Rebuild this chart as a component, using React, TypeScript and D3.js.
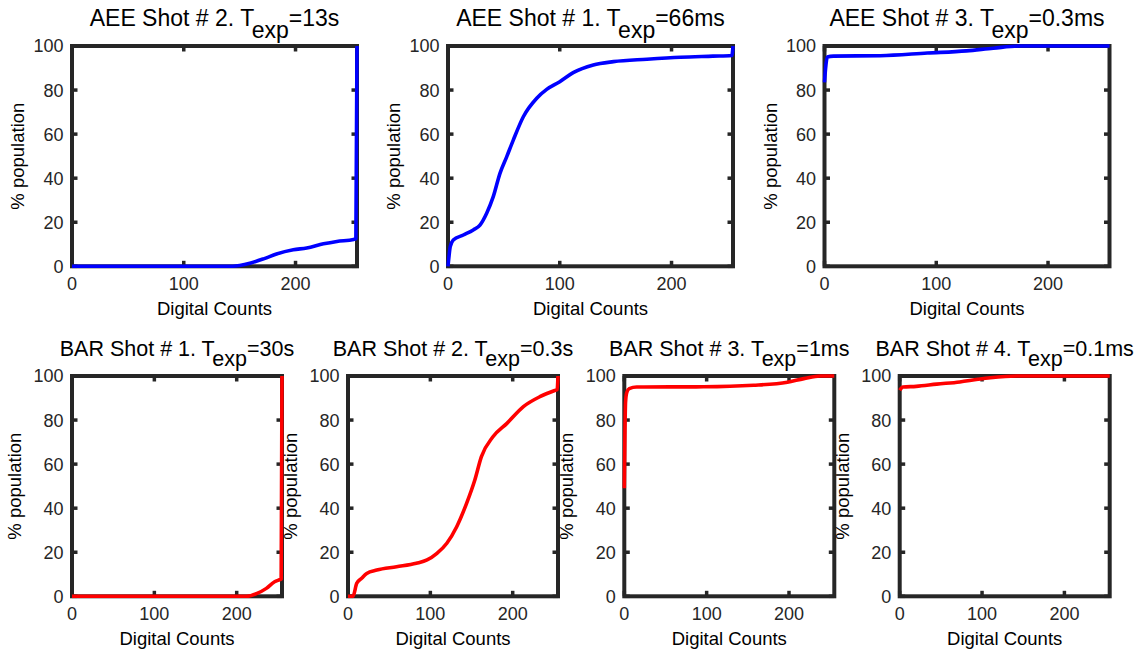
import React from "react";
import * as d3 from "d3";

// ---------- data ----------
const xTicks = [0, 100, 200];
const yTicks = [0, 20, 40, 60, 80, 100];
const xLabel = "Digital Counts";
const yLabel = "% population";

// AEE Shot # 2, Texp = 13s
const aee2Counts = [0, 138, 150, 160, 172, 183, 198, 210, 225, 237, 252, 254, 255];
const aee2Pct = [0, 0, 0.4, 1.5, 3.5, 5.6, 7.5, 8.3, 10.2, 11.3, 12.2, 12.5, 100];

// AEE Shot # 1, Texp = 66ms
const aee1Counts = [0, 1, 2, 4.7, 13.7, 22.6, 28.6, 34.6, 40.5, 46.5, 52.5, 58.4, 67.4, 79.4, 88.3, 100, 112, 130, 148, 178, 208, 237, 254, 255];
const aee1Pct = [0, 5, 8.9, 11.9, 14.2, 16.5, 18.7, 24.1, 31.6, 42.2, 49.7, 57.3, 67.9, 76.3, 80.3, 83.8, 87.9, 91.4, 92.9, 94.0, 94.9, 95.4, 95.7, 100];

// AEE Shot # 3, Texp = 0.3ms
const aee3Counts = [0, 1, 2.5, 8, 50, 92, 127, 151, 175, 255];
const aee3Pct = [83.5, 90, 95, 95.4, 95.6, 96.8, 97.8, 99, 100, 100];

// BAR Shot # 1, Texp = 30s
const bar1Counts = [0, 212, 224, 236, 246, 252, 254, 255];
const bar1Pct = [0, 0, 1.2, 3.6, 6.6, 7.5, 7.8, 100];

// BAR Shot # 2, Texp = 0.3s
const bar2Counts = [0, 6, 10.6, 16.6, 22.7, 35, 59, 83, 96, 108, 120, 132, 144, 154, 162, 176, 193, 213, 233, 251, 254, 255];
const bar2Pct = [0, 0, 5.9, 8.2, 10.4, 11.9, 13.4, 15, 16.5, 19.5, 24.1, 31.6, 42.2, 52.8, 63.4, 72.4, 78.5, 86.1, 90.6, 93.4, 93.8, 100];

// BAR Shot # 3, Texp = 1ms
const bar3Counts = [0, 0.8, 1.5, 3, 6, 15, 96, 157, 198, 218, 238, 255];
const bar3Pct = [49, 75, 88, 92.5, 94.3, 95, 95.1, 95.8, 97.2, 98.8, 100, 100];

// BAR Shot # 4, Texp = 0.1ms
const bar4Counts = [0, 4, 20, 45, 73, 95, 110, 142, 255];
const bar4Pct = [93.5, 95, 95.3, 96.3, 97.3, 98.5, 99.2, 100, 100];

const titlesMain = ["AEE Shot # 2. T", "AEE Shot # 1. T", "AEE Shot # 3. T", "BAR Shot # 1. T", "BAR Shot # 2. T", "BAR Shot # 3. T", "BAR Shot # 4. T"];
const titlesTail = ["=13s", "=66ms", "=0.3ms", "=30s", "=0.3s", "=1ms", "=0.1ms"];
const titleSub = "exp";

// ---------- layout ----------
const FONT = "'Liberation Sans', Arial, Helvetica, sans-serif";
const AX = "#262626";

type Panel = {
  xs: number[];
  ys: number[];
  color: string;
  left: number;
  top: number;
  w: number;
  h: number;
  titleSize: number;
  subShift: number;
  ylabOff: number;
};

const TOP_W = 285, TOP_H = 220.3, TOP_Y = 46;
const BOT_W = 210, BOT_H = 220.3, BOT_Y = 376;

const panels: Panel[] = [
  { xs: aee2Counts, ys: aee2Pct, color: "#0000ff", left: 72, top: TOP_Y, w: TOP_W, h: TOP_H, titleSize: 23, subShift: 12, ylabOff: 48 },
  { xs: aee1Counts, ys: aee1Pct, color: "#0000ff", left: 448, top: TOP_Y, w: TOP_W, h: TOP_H, titleSize: 23, subShift: 12, ylabOff: 48 },
  { xs: aee3Counts, ys: aee3Pct, color: "#0000ff", left: 824.5, top: TOP_Y, w: TOP_W, h: TOP_H, titleSize: 23, subShift: 12, ylabOff: 48 },
  { xs: bar1Counts, ys: bar1Pct, color: "#ff0000", left: 72, top: BOT_Y, w: BOT_W, h: BOT_H, titleSize: 21.5, subShift: 10, ylabOff: 51 },
  { xs: bar2Counts, ys: bar2Pct, color: "#ff0000", left: 348, top: BOT_Y, w: BOT_W, h: BOT_H, titleSize: 21.5, subShift: 10, ylabOff: 51 },
  { xs: bar3Counts, ys: bar3Pct, color: "#ff0000", left: 624.3, top: BOT_Y, w: BOT_W, h: BOT_H, titleSize: 21.5, subShift: 10, ylabOff: 51 },
  { xs: bar4Counts, ys: bar4Pct, color: "#ff0000", left: 899.7, top: BOT_Y, w: BOT_W, h: BOT_H, titleSize: 21.5, subShift: 10, ylabOff: 51 },
];

function PanelView({ p, idx }: { p: Panel; idx: number }) {
  const x = d3.scaleLinear().domain([0, 255]).range([p.left, p.left + p.w]);
  const y = d3.scaleLinear().domain([0, 100]).range([p.top + p.h, p.top]);
  const pts: [number, number][] = p.xs.map((v, i) => [v, p.ys[i]]);
  const line = d3
    .line<[number, number]>()
    .x((d) => x(d[0]))
    .y((d) => y(d[1]))
    .curve(d3.curveMonotoneX);
  const x0 = x(0), x1 = x(255), y0 = y(0), y1 = y(100);
  const tl = 5.5;
  const cx = (x0 + x1) / 2;
  const cy = (y0 + y1) / 2;
  return (
    <g>
      {/* ticks */}
      {xTicks.map((t) => (
        <g key={"xt" + t}>
          <line x1={x(t)} x2={x(t)} y1={y0} y2={y0 - tl} stroke={AX} strokeWidth={3.5} />
          <line x1={x(t)} x2={x(t)} y1={y1} y2={y1 + tl} stroke={AX} strokeWidth={3.5} />
          <text x={x(t)} y={y0 + 23.5} textAnchor="middle" fontSize={18} fill={AX} fontFamily={FONT}>
            {t}
          </text>
        </g>
      ))}
      {yTicks.map((t) => (
        <g key={"yt" + t}>
          <line x1={x0} x2={x0 + tl} y1={y(t)} y2={y(t)} stroke={AX} strokeWidth={3.5} />
          <line x1={x1} x2={x1 - tl} y1={y(t)} y2={y(t)} stroke={AX} strokeWidth={3.5} />
          <text x={x0 - 8.5} y={y(t)} dy="0.36em" textAnchor="end" fontSize={18} fill={AX} fontFamily={FONT}>
            {t}
          </text>
        </g>
      ))}
      {/* box */}
      <rect x={x0} y={y1} width={x1 - x0} height={y0 - y1} fill="none" stroke={AX} strokeWidth={4} />
      {/* data */}
      <path d={line(pts) || ""} fill="none" stroke={p.color} strokeWidth={3.6} strokeLinejoin="round" />
      {/* labels */}
      <text x={cx} y={y0 + 49} textAnchor="middle" fontSize={18.5} fill="#000" fontFamily={FONT}>
        {xLabel}
      </text>
      <text
        transform={`translate(${x0 - p.ylabOff},${cy}) rotate(-90)`}
        textAnchor="middle"
        fontSize={18.5}
        fill="#000"
        fontFamily={FONT}
      >
        {yLabel}
      </text>
      <text x={cx} y={y1 - 20} textAnchor="middle" fontSize={p.titleSize} fill="#000" fontFamily={FONT}>
        <tspan>{titlesMain[idx]}</tspan>
        <tspan dy={p.subShift}>{titleSub}</tspan>
        <tspan dy={-p.subShift}>{titlesTail[idx]}</tspan>
      </text>
    </g>
  );
}

export default function App() {
  return (
    <svg
      width={1141}
      height={651}
      viewBox="0 0 1141 651"
      style={{ position: "absolute", left: 0, top: 0, background: "#fff" }}
    >
      <rect width={1141} height={651} fill="#fff" />
      {panels.map((p, i) => (
        <PanelView key={i} p={p} idx={i} />
      ))}
    </svg>
  );
}
